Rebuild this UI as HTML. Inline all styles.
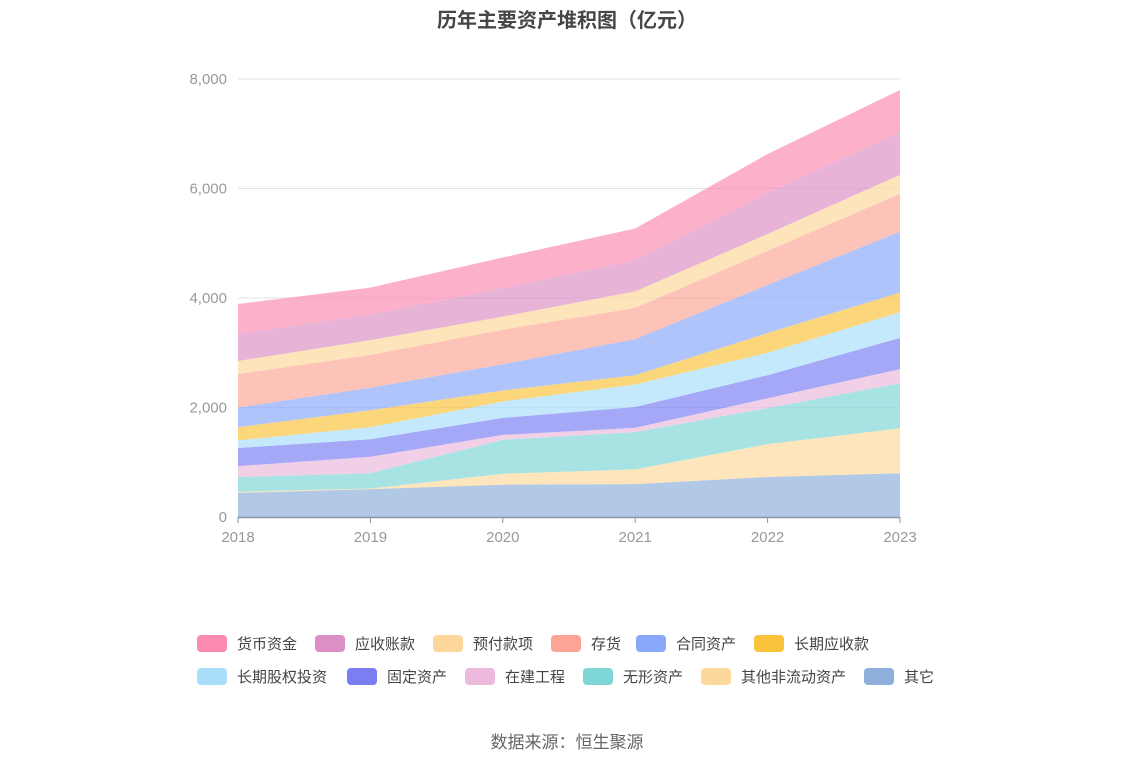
<!DOCTYPE html>
<html><head><meta charset="utf-8"><style>
body{margin:0;width:1134px;height:766px;background:#fff;font-family:"Liberation Sans","Noto Sans CJK SC",sans-serif;overflow:hidden;position:relative}
.title{position:absolute;top:4px;left:0;width:1134px;text-align:center;font-size:20px;font-weight:bold;color:#464646}
.leg{position:absolute;font-size:15px;color:#444;display:flex;align-items:center;height:20px}
.leg i{display:inline-block;width:30px;height:17px;border-radius:4px;margin-right:10px}
.src{position:absolute;top:728px;width:1134px;text-align:center;font-size:17px;color:#666}
</style></head><body>
<div class="title">历年主要资产堆积图（亿元）</div>
<svg id="chart" width="1134" height="766" style="position:absolute;left:0;top:0"></svg>
<div id="legend"></div>
<div class="src">数据来源：恒生聚源</div>
<script>
const years=["2018","2019","2020","2021","2022","2023"];
const names=["其它","其他非流动资产","无形资产","在建工程","固定资产","长期股权投资","长期应收款","合同资产","存货","预付款项","应收账款","货币资金"];
const s_qita=[440,510,590,600,730,800];
const s_qtfld=[20,10,200,270,600,820];
const s_wuxing=[270,280,620,680,660,820];
const s_zaijian=[200,300,90,80,180,260];
const s_guding=[330,320,310,380,420,570];
const s_guquan=[140,220,300,410,410,470];
const s_yingshouLong=[240,310,200,170,360,360];
const s_hetong=[360,410,480,660,880,1110];
const s_cunhuo=[610,600,630,570,620,690];
const s_yufu=[240,270,240,300,310,350];
const s_yingshou=[490,470,520,570,750,780];
const s_huobi=[550,490,560,580,710,770];
const series=[s_qita,s_qtfld,s_wuxing,s_zaijian,s_guding,s_guquan,s_yingshouLong,s_hetong,s_cunhuo,s_yufu,s_yingshou,s_huobi];
const colors=["#8eaedb","#fdd89c","#7fd6d6","#ebbadc","#7b7df3","#a8defa","#fbc23b","#8aa8fb","#fca597","#fdd79b","#dc8fc4","#fc8bb1"];
const yTicks=[0,2000,4000,6000,8000];
const NS="http://www.w3.org/2000/svg";
const svg=document.getElementById('chart');
const x0=238,x1=900,yb=517,yt=79,ymax=8000;
const X=i=>x0+(x1-x0)*i/(years.length-1);
const Y=v=>yb-(yb-yt)*v/ymax;
function mk(t,a){const e=document.createElementNS(NS,t);for(const k in a)e.setAttribute(k,a[k]);svg.appendChild(e);return e;}
yTicks.forEach(v=>{
 if(v>0){const l=mk('line',{x1:x0,x2:x1,y1:Y(v),y2:Y(v),stroke:'#e0e3ef','stroke-width':1});
 
 }
 const t=mk('text',{x:227,y:Y(v)+5,'text-anchor':'end','font-size':15,fill:'#999'});t.textContent=v.toLocaleString('en-US');
 
 
});
let cum=years.map(()=>0);
series.forEach((s,k)=>{
 const lo=cum.slice();const hi=cum.map((c,i)=>c+s[i]);
 let d='M'+hi.map((v,i)=>X(i)+','+Y(v)).join('L');
 for(let i=years.length-1;i>=0;i--)d+='L'+X(i)+','+Y(lo[i]);
 const p=mk('path',{d:d+'Z',fill:colors[k],'fill-opacity':0.68});
 
 
 cum=hi;
});
const ax=mk('line',{x1:x0,x2:x1,y1:yb+0.5,y2:yb+0.5,stroke:'#8a93a6','stroke-width':1.5});


years.forEach((y,i)=>{
 const tk=mk('line',{x1:X(i),x2:X(i),y1:yb,y2:yb+6,stroke:'#8a93a6'});
 
 
 const t=mk('text',{x:X(i),y:yb+25,'text-anchor':'middle','font-size':15,fill:'#999'});t.textContent=y;
 
 
});
const legPos=[[11,197,643],[10,315,643],[9,433,643],[8,551,643],[7,636,643],[6,754,643],[5,197,676],[4,347,676],[3,465,676],[2,583,676],[1,701,676],[0,864,676]];
const lg=document.getElementById('legend');
legPos.forEach(([k,x,y])=>{
 const d=document.createElement('div');d.className='leg';d.style.left=x+'px';d.style.top=(y-10)+'px';
 d.innerHTML='<i style="background:'+colors[k]+'"></i>'+names[k];
 
 
 lg.appendChild(d);
});
</script>
</body></html>
